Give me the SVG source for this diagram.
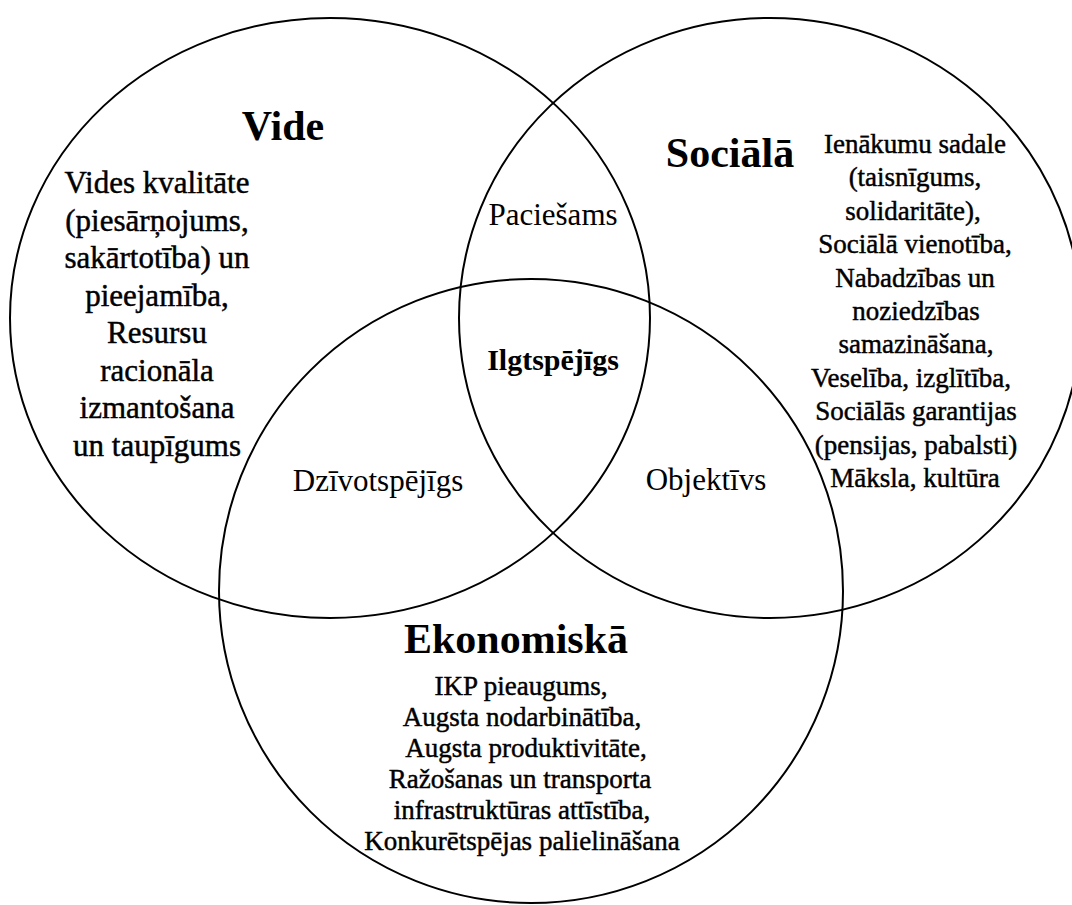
<svg xmlns="http://www.w3.org/2000/svg" width="1072" height="905" viewBox="0 0 1072 905">
<style>
.ring{fill:none;stroke:#000;stroke-width:2}
text{font-family:"Liberation Serif","Times New Roman",serif;fill:#000;text-anchor:middle}
.title{font-size:42px;font-weight:bold}
.body{stroke:#000;stroke-width:0.45}
.vb{font-size:31px}
.sb{font-size:27px}
.eb{font-size:27px}
.lbl{font-size:31px}
.core{font-size:30px;font-weight:bold}
</style>
<rect width="1072" height="905" fill="#fff"/>
<g id="shapes">
<ellipse class="ring" cx="330" cy="318" rx="320" ry="300"/>
<ellipse class="ring" cx="770" cy="318" rx="311" ry="300"/>
<ellipse class="ring" cx="531" cy="591" rx="312" ry="312"/>
</g>
<g id="connectors"></g>
<g id="vide">
<text class="title" x="283" y="140">Vide</text>
<text class="body vb" x="157" y="193">Vides kvalitāte</text>
<text class="body vb" x="157" y="230.5">(piesārņojums,</text>
<text class="body vb" x="157" y="268">sakārtotība) un</text>
<text class="body vb" x="157" y="305.5">pieejamība,</text>
<text class="body vb" x="157" y="343">Resursu</text>
<text class="body vb" x="157" y="380.5">racionāla</text>
<text class="body vb" x="157" y="418">izmantošana</text>
<text class="body vb" x="157" y="455.5">un taupīgums</text>
</g>
<g id="sociala">
<text class="title" x="730" y="167">Sociālā</text>
<text class="body sb" x="915" y="153">Ienākumu sadale</text>
<text class="body sb" x="915" y="186.4">(taisnīgums,</text>
<text class="body sb" x="913" y="219.8">solidaritāte),</text>
<text class="body sb" x="915" y="253.2">Sociālā vienotība,</text>
<text class="body sb" x="915" y="286.6">Nabadzības un</text>
<text class="body sb" x="916" y="320">noziedzības</text>
<text class="body sb" x="916" y="353.4">samazināšana,</text>
<text class="body sb" x="911" y="386.8">Veselība, izglītība,</text>
<text class="body sb" x="916" y="420.2">Sociālās garantijas</text>
<text class="body sb" x="916" y="453.6">(pensijas, pabalsti)</text>
<text class="body sb" x="915" y="487">Māksla, kultūra</text>
</g>
<g id="ekonomiska">
<text class="title" x="516" y="653">Ekonomiskā</text>
<text class="body eb" x="521" y="695">IKP pieaugums,</text>
<text class="body eb" x="522" y="726">Augsta nodarbinātība,</text>
<text class="body eb" x="526" y="757">Augsta produktivitāte,</text>
<text class="body eb" x="520" y="788">Ražošanas un transporta</text>
<text class="body eb" x="522" y="819">infrastruktūras attīstība,</text>
<text class="body eb" x="522" y="850">Konkurētspējas palielināšana</text>
</g>
<g id="paciesams"><text class="lbl" x="553" y="225">Paciešams</text></g>
<g id="ilgtspejigs"><text class="core" x="553" y="370">Ilgtspējīgs</text></g>
<g id="dzivotspejigs"><text class="lbl" x="378" y="491">Dzīvotspējīgs</text></g>
<g id="objektivs"><text class="lbl" x="706" y="490">Objektīvs</text></g>
</svg>
